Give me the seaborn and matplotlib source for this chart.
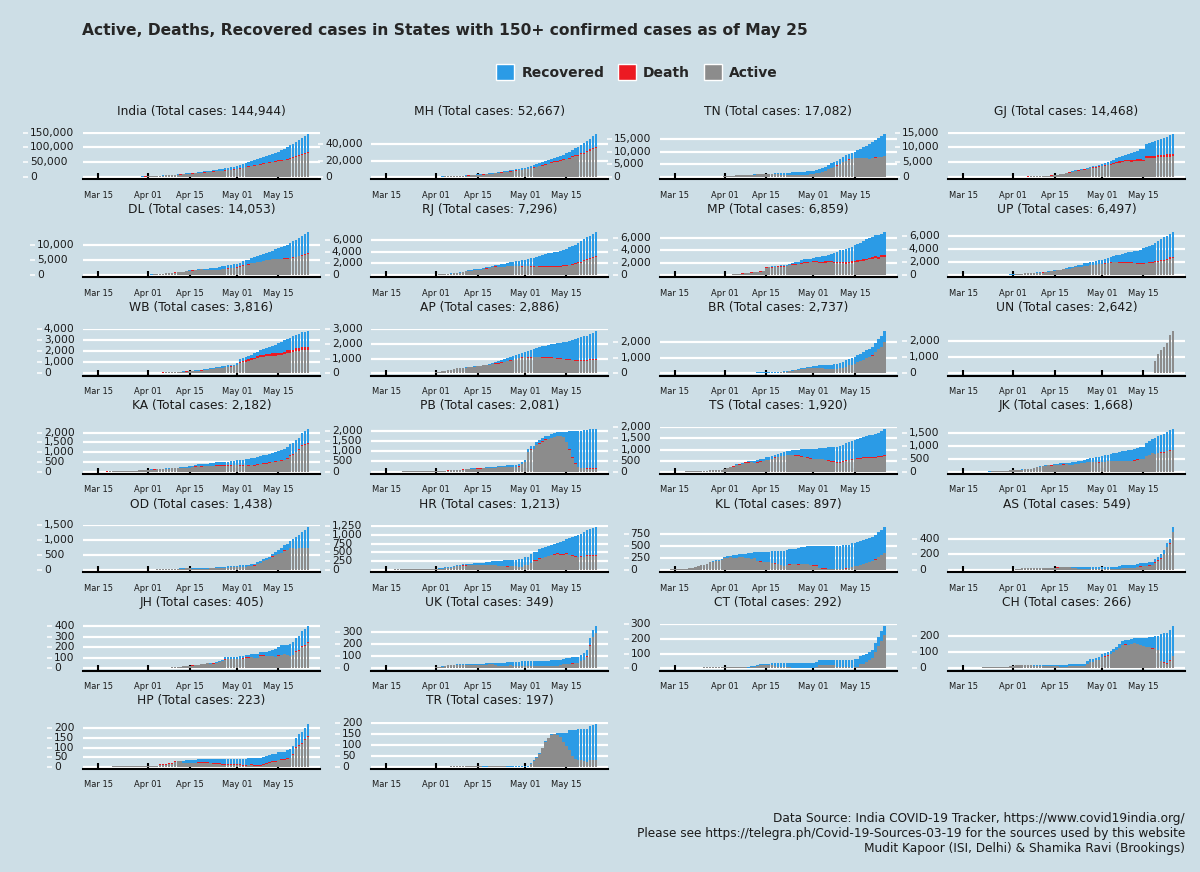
import numpy as np
import pandas as pd
import matplotlib
matplotlib.use("Agg")
import matplotlib.pyplot as plt
import seaborn as sns
from matplotlib.patches import Patch
from matplotlib.lines import Line2D
from matplotlib.textpath import TextToPath
from matplotlib.font_manager import FontProperties

# ---------------- data (cumulative counts, one value per day from each start date) ----------------
IN_start = "2020-03-14"
IN_total = [102,113,119,142,156,194,244,330,396,499,536,657,727,887,987,1024,1251,1397,
            1998,2543,2567,3082,3588,4778,5311,5916,6725,7598,8446,9205,10453,11487,12322,13430,14352,15722,17615,18539,20080,21370,23077,24530,26283,27890,29451,31324,33062,34863,
            37257,39699,42505,46437,49400,52987,56351,59695,62808,67161,70768,74292,78055,81997,85784,90648,95698,100328,106475,112028,118226,124794,131423,138536,144944]
IN_recovered = [10,13,14,14,14,20,23,23,24,34,40,43,45,75,84,95,102,124,
                169,191,213,229,275,375,422,473,565,655,762,1036,1190,1359,1489,1750,2015,2463,2854,3273,3960,4325,4814,5210,5939,6523,7137,7747,8437,9068,
                10007,10819,11775,12847,14183,15331,16776,17887,19301,20969,22549,24420,26235,27969,30258,34109,36824,39233,42309,45300,48553,51824,54385,57692,60490]
IN_deaths = [2,2,2,3,3,4,5,7,7,10,11,13,17,20,24,27,35,45,
             56,72,80,96,109,136,160,181,227,249,288,331,358,393,422,448,486,521,559,603,652,686,723,779,826,881,939,1008,1075,1152,
             1223,1323,1391,1568,1694,1783,1889,1985,2109,2212,2294,2415,2551,2649,2752,2872,3025,3156,3302,3434,3583,3720,3867,4021,4172]

MH_start = "2020-03-14"
MH_total = [14,32,38,41,45,48,52,63,74,97,107,122,130,153,186,203,220,302,
            335,423,490,635,748,868,1018,1135,1364,1574,1761,1982,2334,2687,2919,3202,3323,3651,4200,4666,5218,5652,6427,6817,7628,8068,8590,9318,9915,10498,
            11506,12296,12974,14541,15525,16758,17974,19063,20228,22171,23401,24427,25922,27524,29100,30706,33053,35058,37136,39297,41642,44582,47190,50231,52667]
MH_recovered = [0,0,0,0,0,0,0,0,0,0,1,14,14,25,25,34,35,39,
                39,42,50,50,56,56,79,117,125,188,208,217,229,259,295,300,331,365,507,572,722,789,840,957,1076,1188,1282,1388,1593,1773,
                1879,2000,2115,2465,2819,3094,3301,3470,3800,3986,4199,5125,5547,6059,6564,7088,7688,8437,9639,10318,11726,12583,13404,14600,15786]
MH_deaths = [0,0,0,1,1,1,1,2,2,3,4,4,4,6,7,8,10,13,
             16,20,26,32,45,52,64,72,97,110,127,149,160,178,187,194,201,211,223,232,251,269,283,301,323,342,369,400,432,459,
             485,521,548,583,617,651,694,731,779,832,868,921,975,1019,1068,1135,1198,1249,1325,1390,1454,1517,1577,1635,1695]

TN_start = "2020-03-14"
TN_total = [1,1,1,1,1,2,3,3,6,9,12,18,26,29,40,42,67,124,
            234,309,411,485,571,621,690,738,834,911,969,1075,1173,1204,1242,1267,1323,1372,1477,1520,1596,1629,1683,1755,1821,1885,1937,2058,2162,2323,
            2526,2757,3023,3550,4058,4829,5409,6009,6535,7204,8002,8718,9227,9674,10108,10585,11224,11760,12448,13191,13967,14753,15512,16277,17082]
TN_recovered = [1,1,1,1,1,1,1,1,1,1,1,1,1,1,1,1,1,2,
                6,6,6,6,8,8,8,19,21,27,44,50,58,81,118,180,283,365,411,635,662,752,866,960,1020,1101,1128,1210,1258,1312,
                1372,1379,1485,1516,1547,1605,1824,1959,1959,2051,2134,2176,2240,2369,2599,3002,3538,4172,4895,5882,6282,6984,7491,8324,8731]
TN_deaths = [0,0,0,0,0,0,0,0,0,0,0,1,1,1,1,1,1,1,
             1,2,3,5,5,6,7,8,8,9,10,11,11,12,15,15,15,15,15,16,17,18,18,20,22,23,24,25,27,28,
             29,30,30,31,33,35,37,40,44,47,49,53,61,64,69,71,74,78,81,84,87,94,103,111,118]

GJ_start = "2020-03-19"
GJ_total = [2,5,7,18,29,33,38,43,44,53,58,69,74,
            82,87,95,105,122,144,165,179,186,241,308,378,432,538,650,766,930,1099,1376,1604,1939,2178,2407,2624,2815,3071,3301,3548,3774,4082,
            4395,4721,5054,5428,5804,6245,6625,7013,7403,7797,8195,8541,8903,9268,9592,10989,11380,11746,12140,12539,12910,13273,13664,14063,14468]
GJ_recovered = [0,0,0,0,0,0,0,0,0,1,1,1,5,
                5,5,8,10,11,14,17,18,25,25,33,45,52,54,56,64,73,86,93,106,131,139,179,235,265,282,313,362,434,527,
                613,734,896,1042,1115,1250,1381,1500,1709,2091,2545,2780,3023,3246,3753,4035,4308,4804,5043,5219,5488,5880,6091,6412,6636]
GJ_deaths = [0,0,0,1,1,1,3,3,3,5,5,6,6,
             7,7,8,10,11,12,14,16,16,17,19,22,26,26,30,33,36,41,53,58,71,90,103,112,127,133,151,162,181,197,
             214,236,262,290,319,368,396,425,449,472,493,513,537,566,586,606,625,659,694,719,749,773,802,829,888]

DL_start = "2020-03-14"
DL_total = [7,7,7,8,10,12,17,26,29,30,31,35,36,39,40,72,87,97,
            152,219,386,445,503,523,576,669,720,903,1069,1154,1154,1510,1561,1578,1707,1893,2003,2081,2156,2248,2376,2514,2625,2918,3108,3314,3439,3515,
            3738,4122,4549,4898,5104,5532,5980,6318,6542,6923,7233,7639,7998,8470,8895,9333,9755,10054,10554,11088,11659,12319,12910,13418,14053]
DL_recovered = [2,2,2,2,2,2,5,6,6,6,6,6,6,6,6,6,6,6,
                6,6,8,8,12,16,16,18,21,25,25,27,30,30,30,30,36,47,72,290,431,611,724,808,857,877,1078,1078,1092,1094,
                1167,1256,1362,1431,1542,1621,1898,2020,2129,2187,2298,2512,2638,3046,3518,3926,4167,4485,4750,5192,5567,5898,6267,6540,6771]
DL_deaths = [0,1,1,1,1,1,1,1,1,1,1,1,1,1,2,2,2,2,
             2,2,4,6,7,7,9,9,12,14,19,24,24,28,30,32,38,42,45,47,48,48,50,53,54,54,54,54,56,59,
             61,64,64,64,64,64,66,68,73,73,73,86,106,115,123,129,148,160,168,176,194,208,231,261,276]

RJ_start = "2020-03-14"
RJ_total = [2,3,4,4,7,13,17,23,25,32,33,36,38,41,54,59,69,79,
            106,133,167,200,253,288,328,381,463,561,700,804,873,1005,1076,1131,1229,1351,1478,1576,1735,1801,1890,1964,2083,2185,2262,2364,2438,2584,
            2666,2772,2886,3009,3158,3317,3453,3579,3708,3814,3898,3988,4126,4328,4534,4727,4960,5202,5507,5845,6227,6494,6742,7028,7296]
RJ_recovered = [0,0,0,3,3,3,3,3,3,3,3,3,3,3,3,3,3,3,
                3,3,21,21,21,21,21,21,21,25,25,25,93,147,164,183,183,205,205,213,230,324,420,524,539,616,648,738,814,1059,
                1116,1200,1356,1459,1596,1771,1916,2051,2176,2264,2389,2439,2537,2666,2787,2935,3015,3146,3314,3553,3649,3708,3853,3951,4035]
RJ_deaths = [0,0,0,0,0,0,0,0,0,0,1,1,1,2,2,3,3,3,
             3,3,3,3,3,3,3,3,3,5,7,8,11,14,14,14,14,20,21,25,26,26,27,27,33,42,46,50,51,56,
             62,65,71,77,82,86,92,97,100,103,107,109,115,121,125,128,131,131,138,146,150,153,160,163,167]

MP_start = "2020-03-20"
MP_total = [4,4,6,7,7,14,15,20,30,39,47,66,
            86,99,104,154,165,256,268,320,411,435,532,564,604,730,1310,1355,1407,1485,1540,1552,1587,1695,1846,1945,2090,2165,2368,2560,2625,2660,
            2719,2846,2942,3049,3138,3252,3341,3614,3785,3986,3986,4173,4426,4595,4790,4977,5236,5465,5735,5981,6170,6371,6371,6665,6859]
MP_recovered = [0,0,0,0,0,0,0,0,0,0,0,0,
                0,0,0,0,0,0,0,0,0,0,0,0,0,0,64,64,127,131,131,148,148,148,203,210,285,302,428,482,495,503,
                524,624,798,881,941,983,1076,1451,1626,1799,1869,2088,2298,2377,2479,2583,2788,2944,3069,3173,3245,3329,3408,3475,3571]
MP_deaths = [0,0,0,0,0,1,1,1,2,2,3,3,
             5,6,6,8,9,11,14,19,26,33,36,40,43,50,53,53,57,65,72,76,76,80,80,83,99,104,110,113,119,121,
             129,146,151,165,165,176,185,215,221,225,225,232,237,239,248,252,252,258,270,272,281,290,291,300,300]

UP_start = "2020-03-14"
UP_total = [12,12,13,15,17,19,23,26,28,33,35,38,42,45,55,66,97,103,
            113,132,173,227,276,305,332,361,410,433,452,483,558,660,735,805,846,969,1084,1176,1294,1449,1512,1604,1778,1843,1986,2053,2134,2281,
            2328,2487,2645,2766,2880,2998,3073,3214,3373,3467,3573,3664,3729,3902,4058,4259,4464,4605,4926,5175,5515,5735,6017,6268,6497]
UP_recovered = [0,0,0,0,4,4,9,9,11,11,11,11,11,11,14,14,14,14,
                14,14,17,17,19,19,21,21,31,31,42,45,49,49,68,68,74,82,140,187,205,247,276,301,328,401,460,507,516,604,
                654,689,758,802,868,998,1130,1250,1387,1504,1638,1758,1887,2072,2221,2338,2441,2636,2834,3002,3204,3379,3538,3581,3699]
UP_deaths = [0,0,0,0,0,0,0,0,0,0,0,0,1,1,1,1,1,2,
             2,2,2,2,3,3,4,4,5,5,5,5,5,5,13,14,14,14,14,21,21,21,24,24,24,29,31,34,34,39,
             41,45,47,50,55,56,62,66,74,74,80,82,84,86,94,98,104,112,118,127,138,146,155,161,165]

WB_start = "2020-03-17"
WB_total = [1,1,2,2,3,4,7,7,9,10,15,17,18,22,26,
            37,53,63,69,80,91,99,116,116,134,152,152,190,213,231,255,287,310,339,392,423,456,514,571,611,649,697,725,758,795,
            922,1259,1344,1456,1548,1678,1786,1939,2063,2173,2290,2377,2461,2576,2677,2825,2961,3103,3197,3332,3459,3541,3667,3741,3816]
WB_recovered = [0,0,0,0,0,0,0,0,0,0,0,0,0,0,0,
                0,3,3,3,3,3,3,3,13,19,19,19,29,36,37,42,51,55,66,73,73,79,103,103,109,119,119,124,124,139,
                151,218,218,265,286,296,364,364,415,499,569,612,671,772,832,959,1001,1006,1136,1193,1221,1268,1306,1356,1414]
WB_deaths = [0,0,0,0,0,1,1,1,1,1,3,3,3,3,3,
             3,3,5,5,5,5,5,5,5,5,5,5,7,7,7,10,10,12,12,12,15,15,15,18,18,20,20,22,22,33,
             33,105,113,133,144,151,160,171,185,190,198,207,215,225,232,238,244,250,253,259,262,265,269,272,278]

AP_start = "2020-03-14"
AP_total = [1,1,1,1,2,2,3,3,6,8,9,10,12,14,19,21,23,40,
            87,132,161,190,226,266,314,348,363,381,405,420,432,473,525,534,572,603,647,722,757,813,895,955,1016,1097,1177,1259,1332,1403,
            1463,1525,1583,1650,1717,1777,1833,1887,1930,1980,2018,2051,2090,2137,2157,2205,2282,2355,2407,2452,2514,2561,2647,2709,2886]
AP_recovered = [0,0,0,0,0,0,0,0,0,0,0,0,0,0,1,1,1,1,
                1,1,1,1,1,1,2,2,6,6,10,10,11,14,16,17,20,29,42,52,75,118,141,150,179,193,235,258,286,321,
                341,441,488,524,589,651,729,788,842,888,960,1010,1056,1142,1192,1252,1353,1466,1511,1560,1593,1636,1672,1735,1913]
AP_deaths = [0,0,0,0,0,0,0,0,0,0,0,0,0,0,0,0,0,0,
             1,1,1,3,3,3,3,4,4,6,6,6,7,9,14,14,14,15,17,20,22,24,24,24,24,31,31,31,31,33,
             33,33,36,36,36,36,38,41,44,45,46,46,47,48,48,49,49,50,50,52,53,53,53,55,56]

BR_start = "2020-03-22"
BR_total = [2,2,3,4,6,9,9,11,15,15,
            23,24,29,30,32,32,32,38,39,60,60,64,65,66,70,80,83,86,96,113,126,143,176,223,251,274,346,366,403,426,
            466,481,517,529,542,550,572,579,611,696,747,831,938,994,1033,1179,1262,1391,1519,1573,1720,1982,2177,2392,2737]
BR_recovered = [0,0,0,0,0,0,0,0,0,0,
                0,0,0,0,0,0,0,0,0,0,15,15,29,29,29,29,29,29,37,42,42,42,46,46,46,47,56,60,60,64,
                84,110,135,197,256,279,299,315,336,365,384,388,400,420,438,453,483,510,538,541,560,605,629,671,720]
BR_deaths = [0,0,1,1,1,1,1,1,1,1,
             1,1,1,1,1,1,1,1,1,1,1,1,1,1,1,1,1,2,2,2,2,2,2,2,2,2,2,2,2,2,
             2,2,4,4,4,4,5,5,6,6,6,6,6,6,7,7,7,7,9,9,10,11,11,11,13]

UN_start = "2020-05-19"
UN_total = [780,1200,1420,1640,1900,2350,2642]
UN_recovered = [0,0,0,0,0,0,0]
UN_deaths = [0,0,0,0,0,0,0]

KA_start = "2020-03-14"
KA_total = [6,7,8,11,14,15,15,20,26,33,37,41,55,55,64,76,83,101,
            110,124,128,144,151,163,175,181,197,207,215,232,247,260,279,315,359,384,390,408,418,427,445,474,489,503,512,523,535,565,
            589,601,614,651,673,693,705,753,794,848,862,925,959,987,1056,1092,1147,1246,1397,1462,1605,1743,1959,2089,2182]
KA_recovered = [0,0,0,0,0,0,0,0,2,2,3,3,3,5,5,5,5,8,
                9,11,11,12,12,12,20,25,25,34,39,54,59,71,75,80,82,92,111,112,114,129,144,152,152,177,188,198,206,216,
                229,271,293,305,332,340,366,376,386,422,431,433,451,460,496,509,530,539,543,557,580,597,608,654,705]
KA_deaths = [0,0,0,1,1,1,1,1,1,1,1,2,2,3,3,3,3,3,
             3,3,4,4,4,4,4,5,5,6,6,6,7,10,12,13,13,14,14,16,17,17,17,18,19,19,19,20,21,21,
             22,22,25,25,25,28,30,30,30,30,31,31,31,33,35,36,37,37,40,40,41,41,42,44,44]

PB_start = "2020-03-14"
PB_total = [1,1,1,2,2,2,2,14,21,21,29,33,33,38,38,38,41,41,
            46,48,53,57,68,76,79,91,101,132,151,158,170,176,186,197,202,211,219,244,251,277,298,298,313,322,330,342,375,480,
            585,1102,1232,1261,1451,1526,1644,1731,1762,1823,1877,1914,1924,1932,1946,1964,1980,1981,2002,2005,2028,2045,2060,2061,2081]
PB_recovered = [0,0,0,0,0,0,0,0,0,0,0,0,0,0,0,0,0,1,
                1,1,4,4,5,5,5,5,5,14,14,22,25,25,27,27,29,30,31,38,45,49,57,71,72,85,90,98,104,104,
                112,117,126,135,135,149,149,156,159,159,160,160,171,230,480,860,1280,1550,1750,1800,1830,1860,1880,1890,1898]
PB_deaths = [0,0,0,0,0,0,1,1,1,1,1,1,1,1,1,1,3,3,
             4,4,4,5,5,6,7,8,8,9,11,11,12,13,13,13,13,13,14,16,16,17,17,17,17,18,19,19,20,21,
             21,21,23,23,27,28,28,29,31,31,32,32,32,32,32,32,35,37,37,38,39,39,39,40,40]

TS_start = "2020-03-14"
TS_total = [3,3,4,5,8,13,17,21,22,33,35,41,44,59,67,70,77,97,
            127,154,229,269,334,364,404,453,471,487,503,531,562,593,644,650,700,766,809,858,872,928,945,970,984,991,1001,1004,1009,1016,
            1038,1044,1063,1082,1085,1096,1107,1122,1132,1163,1196,1275,1326,1367,1414,1454,1509,1551,1592,1634,1661,1699,1761,1813,1920]
TS_recovered = [1,1,1,1,1,1,1,1,1,1,1,1,1,1,1,1,1,1,
                1,1,15,32,32,32,35,35,45,45,100,100,100,100,110,118,120,125,130,140,150,160,190,210,230,260,290,321,367,409,
                444,464,480,500,540,585,620,650,690,725,725,750,775,800,825,850,880,900,930,965,1000,1030,1060,1100,1164]
TS_deaths = [0,0,0,0,0,0,0,0,0,0,0,0,0,1,1,1,1,1,
             3,3,7,7,11,11,11,11,12,12,12,16,17,17,18,18,18,18,18,21,23,23,24,25,26,26,26,26,26,26,
             28,28,29,29,29,29,29,29,30,30,30,30,31,32,34,34,34,35,38,40,40,45,49,53,56]

JK_start = "2020-03-14"
JK_total = [2,3,3,3,4,4,4,4,4,7,11,13,18,20,33,38,48,55,
            62,70,75,92,106,109,125,158,184,207,224,245,270,278,300,314,328,341,350,354,368,380,407,434,454,494,523,546,565,581,
            614,639,666,701,726,741,775,793,823,836,861,879,934,971,983,1121,1183,1289,1317,1390,1449,1489,1569,1621,1668]
JK_recovered = [0,0,0,0,0,0,1,1,1,1,1,1,1,1,1,2,2,2,
                2,3,3,4,4,4,4,6,6,6,6,11,11,30,36,41,52,56,56,71,86,89,92,99,108,118,136,176,188,216,
                240,247,254,286,305,323,346,371,394,413,423,437,446,466,472,494,528,560,620,650,684,729,755,780,809]
JK_deaths = [0,0,0,0,0,0,0,0,0,0,0,0,1,1,1,1,2,2,
             2,2,2,2,2,2,2,3,4,4,4,4,4,4,4,4,4,4,5,5,5,5,5,5,5,6,6,7,7,8,
             8,8,8,8,8,8,8,9,9,9,10,10,10,10,11,13,14,15,16,18,19,21,21,21,23]

OD_start = "2020-03-16"
OD_total = [1,1,1,2,2,2,2,2,2,3,3,3,3,3,3,4,
            4,5,5,20,21,21,42,42,44,48,50,54,54,60,60,60,60,61,61,68,74,79,83,89,94,103,118,125,142,143,
            149,157,162,169,185,205,219,271,294,377,414,437,538,611,672,737,828,876,978,1052,1103,1189,1269,1336,1438]
OD_recovered = [0,0,0,0,0,0,0,0,0,0,0,0,0,0,0,0,
                0,0,0,0,0,0,0,0,0,0,2,2,2,2,2,18,18,18,19,24,24,24,24,33,33,34,37,39,40,40,
                41,49,55,61,62,63,64,68,68,69,70,75,80,99,115,160,169,208,246,308,383,440,521,596,689]
OD_deaths = [0,0,0,0,0,0,0,0,0,0,0,0,0,0,0,0,
             0,0,0,0,0,1,1,1,1,1,1,1,1,1,1,1,1,1,1,1,1,1,1,1,1,1,1,1,1,1,
             1,1,1,1,1,2,2,2,2,3,3,3,3,3,3,3,3,3,3,5,5,6,6,7,7]

HR_start = "2020-03-14"
HR_total = [14,14,15,16,17,17,19,21,21,26,28,30,33,33,33,35,36,40,
            43,49,58,84,88,93,129,143,147,169,175,179,183,198,204,206,207,225,233,254,262,264,270,272,275,283,293,298,310,313,
            360,376,442,517,527,596,625,647,675,703,730,780,793,818,887,910,928,964,993,1031,1067,1131,1157,1184,1213]
HR_recovered = [0,0,0,0,0,0,0,0,0,0,0,0,11,11,11,14,18,21,
                24,24,29,29,31,31,34,34,34,39,43,46,49,54,57,60,71,87,95,108,117,141,160,166,171,178,182,191,212,217,
                225,234,243,245,254,262,269,271,271,272,280,301,347,366,412,483,512,567,610,643,693,706,739,760,790]
HR_deaths = [0,0,0,0,0,0,0,0,0,0,0,0,0,0,0,0,0,0,
             0,0,0,0,1,1,2,2,3,3,3,3,3,3,3,3,3,3,3,3,3,3,3,3,3,3,3,3,3,3,
             4,4,5,5,6,6,6,6,8,9,10,11,11,11,13,13,13,14,14,15,15,16,16,16,16]

KL_start = "2020-03-14"
KL_total = [19,22,24,27,27,28,40,52,67,95,105,109,137,176,182,202,215,241,
            265,286,295,306,314,327,336,345,357,364,373,375,378,379,386,387,395,396,399,402,408,426,437,448,450,457,481,485,495,497,
            499,499,499,500,502,503,503,503,505,512,519,524,534,560,576,587,601,630,642,666,690,732,795,847,897]
KL_recovered = [3,3,3,3,3,3,3,4,4,4,4,5,11,11,14,16,18,20,
                20,26,28,49,56,59,69,84,97,123,126,179,198,207,211,218,245,257,270,291,316,319,320,321,329,338,355,364,369,392,
                401,401,462,465,468,474,482,484,485,487,490,491,491,493,494,495,496,497,497,497,497,510,518,532,542]
KL_deaths = [0,0,0,0,0,0,0,0,0,0,0,0,0,0,1,1,1,1,
             2,2,2,2,2,2,2,3,3,3,3,3,3,3,3,3,3,3,3,3,3,3,3,3,3,4,4,4,4,4,
             4,4,4,4,4,4,4,4,4,4,4,4,4,4,4,4,4,4,4,4,4,4,4,5,5]

AS_start = "2020-03-31"
AS_total = [1,
            5,16,20,24,26,26,27,28,29,29,29,29,30,31,32,33,34,35,35,35,35,36,36,36,36,36,36,38,38,42,
            43,43,43,43,43,45,52,59,63,65,65,65,80,86,90,92,101,107,142,174,203,259,350,400,549]
AS_recovered = [0,
                0,0,0,0,0,0,0,0,0,0,0,0,0,0,0,0,0,0,0,0,5,12,17,19,19,19,19,27,27,29,
                32,32,32,34,34,34,34,34,34,34,35,35,39,39,41,41,41,42,43,51,54,54,56,58,61]
AS_deaths = [0,
             0,0,0,0,0,0,0,0,0,1,1,1,1,1,1,1,1,1,1,1,1,1,1,1,1,1,1,1,1,1,
             1,1,1,1,1,1,1,1,1,2,2,2,2,2,2,2,2,2,4,4,4,4,4,4,4]

JH_start = "2020-03-31"
JH_total = [1,
            1,1,2,3,3,3,3,4,13,13,17,17,19,24,27,29,33,34,41,45,49,53,55,59,67,82,103,105,107,109,
            111,113,115,125,127,132,132,132,156,157,159,160,173,187,203,217,223,223,231,249,290,308,350,370,405]
JH_recovered = [0,
                0,0,0,0,0,0,0,0,0,0,0,0,0,0,0,0,0,0,0,0,0,8,8,8,8,13,16,17,19,19,
                20,21,21,22,22,23,30,32,32,35,39,41,53,76,79,87,87,98,112,124,130,136,140,150,159]
JH_deaths = [0,
             0,0,0,0,0,0,1,1,1,1,1,1,1,1,2,2,2,2,2,2,2,3,3,3,3,3,3,3,3,3,
             3,3,3,3,3,3,3,3,3,3,3,3,3,3,3,3,3,3,3,3,3,3,3,4,4]

UK_start = "2020-03-15"
UK_total = [1,1,1,1,3,3,3,3,4,5,5,6,7,7,7,7,7,
            10,10,16,22,26,31,31,33,35,35,35,35,35,37,37,37,37,40,42,44,46,46,47,47,48,50,51,54,55,57,
            57,59,60,60,60,61,61,63,64,67,68,69,72,78,82,87,91,92,93,111,122,153,244,317,349]
UK_recovered = [0,0,0,0,0,0,0,0,0,0,0,0,0,0,0,0,0,
                2,2,2,2,2,2,2,2,5,5,5,5,7,9,9,9,9,9,9,11,18,23,24,24,25,26,28,33,36,36,
                36,39,39,40,40,40,43,43,46,46,46,46,46,46,46,50,51,51,52,53,53,56,56,58,58]
UK_deaths = [0,0,0,0,0,0,0,0,0,0,0,0,0,0,0,0,0,
             0,0,0,0,0,0,0,0,0,0,0,0,0,0,0,0,0,0,0,0,0,0,0,0,0,0,0,0,0,0,
             0,0,0,0,0,0,0,0,0,0,0,0,0,0,0,0,1,1,1,1,1,1,2,3,3]

CT_start = "2020-03-19"
CT_total = [1,1,1,1,1,1,6,6,6,7,7,8,9,
            9,9,9,10,10,10,10,10,10,18,18,25,31,31,33,33,36,36,36,36,36,36,36,36,37,37,37,38,38,38,
            40,43,57,57,57,59,59,59,59,59,59,59,60,60,66,66,86,92,101,115,128,172,214,252,292]
CT_recovered = [0,0,0,0,0,0,0,0,0,0,1,1,1,
                2,2,2,2,3,3,3,4,9,9,10,10,10,10,10,12,13,19,24,24,25,28,28,31,32,33,35,36,36,36,
                36,36,36,36,36,36,38,38,49,49,53,53,53,55,55,59,59,59,59,59,59,59,59,62,64]
CT_deaths = [0,0,0,0,0,0,0,0,0,0,0,0,0,
             0,0,0,0,0,0,0,0,0,0,0,0,0,0,0,0,0,0,0,0,0,0,0,0,0,0,0,0,0,0,
             0,0,0,0,0,0,0,0,0,0,0,0,0,0,0,0,0,0,0,0,0,0,0,0,0]

CH_start = "2020-03-19"
CH_total = [1,1,5,6,6,7,7,7,8,8,8,8,13,
            15,18,18,18,18,18,18,19,19,19,21,21,21,21,21,21,21,21,23,26,27,27,27,28,30,45,56,56,67,73,
            88,94,102,111,122,135,150,169,174,174,182,187,187,191,191,191,196,196,200,202,217,218,218,238,266]
CH_recovered = [0,0,0,0,0,0,0,0,0,0,0,0,0,
                0,0,0,0,0,0,0,6,7,7,7,7,7,7,9,9,13,13,13,14,14,14,15,16,17,17,17,17,17,18,
                18,20,21,21,21,21,21,24,24,28,28,30,33,43,51,55,60,71,73,86,170,181,187,187,187]
CH_deaths = [0,0,0,0,0,0,0,0,0,0,0,0,0,
             0,0,0,0,0,0,0,0,0,0,0,0,0,0,0,0,0,0,0,0,0,0,0,0,0,0,0,1,1,1,
             1,1,1,1,1,1,1,1,2,2,2,2,3,3,3,3,3,3,3,3,3,3,3,4,4]

HP_start = "2020-03-20"
HP_total = [2,2,2,2,3,3,3,3,3,3,3,3,
            3,3,6,6,13,13,13,18,18,28,32,32,32,33,33,35,37,38,39,39,39,39,39,40,40,40,40,40,40,40,
            40,40,41,42,45,46,46,46,46,50,55,59,65,66,74,76,78,86,90,110,152,168,179,203,223]
HP_recovered = [0,0,0,0,0,0,0,0,0,0,0,0,
                1,1,1,1,1,1,1,1,1,1,1,1,11,13,13,16,16,16,16,16,16,18,22,22,22,28,28,28,28,28,
                28,28,34,34,34,34,37,37,37,37,37,37,37,37,38,38,40,41,44,45,49,54,57,60,63]
HP_deaths = [0,0,0,0,1,1,1,1,1,1,1,1,
             1,1,2,2,2,2,2,2,2,2,2,2,2,2,2,2,2,2,2,2,2,2,2,2,2,2,2,2,2,2,
             2,2,2,2,3,3,3,3,3,3,3,3,3,3,3,3,3,3,3,3,4,4,4,4,4]

TR_start = "2020-04-06"
TR_total = [1,1,1,1,1,1,1,1,1,1,1,1,1,2,2,2,2,2,2,2,2,2,2,2,2,
            2,2,16,29,43,62,88,118,134,150,152,154,155,155,156,167,167,167,173,175,175,175,189,191,197]
TR_recovered = [0,0,0,0,0,0,0,0,0,0,0,1,1,1,1,1,1,1,1,2,2,2,2,2,2,
                2,2,2,2,2,2,2,2,2,2,2,10,20,40,60,90,116,130,141,145,150,155,160,162,165]
TR_deaths = [0,0,0,0,0,0,0,0,0,0,0,0,0,0,0,0,0,0,0,0,0,0,0,0,0,
             0,0,0,0,0,0,0,0,0,0,0,0,0,0,0,0,0,0,0,0,0,0,0,0,0]

# panel name, start, series, y-break step
STATES = [
    ("India", IN_start, IN_total, IN_recovered, IN_deaths, 50000),
    ("MH", MH_start, MH_total, MH_recovered, MH_deaths, 20000),
    ("TN", TN_start, TN_total, TN_recovered, TN_deaths, 5000),
    ("GJ", GJ_start, GJ_total, GJ_recovered, GJ_deaths, 5000),
    ("DL", DL_start, DL_total, DL_recovered, DL_deaths, 5000),
    ("RJ", RJ_start, RJ_total, RJ_recovered, RJ_deaths, 2000),
    ("MP", MP_start, MP_total, MP_recovered, MP_deaths, 2000),
    ("UP", UP_start, UP_total, UP_recovered, UP_deaths, 2000),
    ("WB", WB_start, WB_total, WB_recovered, WB_deaths, 1000),
    ("AP", AP_start, AP_total, AP_recovered, AP_deaths, 1000),
    ("BR", BR_start, BR_total, BR_recovered, BR_deaths, 1000),
    ("UN", UN_start, UN_total, UN_recovered, UN_deaths, 1000),
    ("KA", KA_start, KA_total, KA_recovered, KA_deaths, 500),
    ("PB", PB_start, PB_total, PB_recovered, PB_deaths, 500),
    ("TS", TS_start, TS_total, TS_recovered, TS_deaths, 500),
    ("JK", JK_start, JK_total, JK_recovered, JK_deaths, 500),
    ("OD", OD_start, OD_total, OD_recovered, OD_deaths, 500),
    ("HR", HR_start, HR_total, HR_recovered, HR_deaths, 250),
    ("KL", KL_start, KL_total, KL_recovered, KL_deaths, 250),
    ("AS", AS_start, AS_total, AS_recovered, AS_deaths, 200),
    ("JH", JH_start, JH_total, JH_recovered, JH_deaths, 100),
    ("UK", UK_start, UK_total, UK_recovered, UK_deaths, 100),
    ("CT", CT_start, CT_total, CT_recovered, CT_deaths, 100),
    ("CH", CH_start, CH_total, CH_recovered, CH_deaths, 100),
    ("HP", HP_start, HP_total, HP_recovered, HP_deaths, 50),
    ("TR", TR_start, TR_total, TR_recovered, TR_deaths, 50),
]

X_TICKS = ["2020-03-15", "2020-04-01", "2020-04-15", "2020-05-01", "2020-05-15"]
FIRST_DAY, LAST_DAY = "2020-03-14", "2020-05-25"

TITLE = "Active, Deaths, Recovered cases in States with 150+ confirmed cases as of May 25"
FOOTER = ["Data Source: India COVID-19 Tracker, https://www.covid19india.org/",
          "Please see https://telegra.ph/Covid-19-Sources-03-19 for the sources used by this website",
          "Mudit Kapoor (ISI, Delhi) & Shamika Ravi (Brookings)"]

# ---------------- style ----------------
BG = "#cddee6"
C_REC, C_DEATH, C_ACT = "#2b9be6", "#ec1a22", "#8c8c8c"
TXT = "#1a1a1a"
YLAB_SIZE = 7.7

sns.set_theme(style="white", rc={"axes.facecolor": BG, "figure.facecolor": BG,
                                 "savefig.facecolor": BG})
plt.rcParams["font.family"] = ["DejaVu Sans"]

W, H = 1200, 872
fig = plt.figure(figsize=(W / 100, H / 100), dpi=100)
COL_LEFT = [83, 371, 659.5, 948]
PW, PH = 237, 47
ROW_BOTTOM = [179 + 98.3 * r for r in range(7)]

origin = pd.Timestamp("2020-03-15")
day0 = (pd.Timestamp(FIRST_DAY) - origin).days
day1 = (pd.Timestamp(LAST_DAY) - origin).days
span = (day1 + 0.45) - (day0 - 0.45)
XLIM = (day0 - 0.45 - 0.05 * span, day1 + 0.45 + 0.05 * span)
xt_pos = [(pd.Timestamp(d) - origin).days for d in X_TICKS]
xt_lab = [pd.Timestamp(d).strftime("%b %d") for d in X_TICKS]

t2p = TextToPath()
fp = FontProperties(family="DejaVu Sans", size=YLAB_SIZE)


def text_width_px(s):
    w, _, _ = t2p.get_text_width_height_descent(s, fp, ismath=False)
    return w * 100 / 72


for i, (name, start, total, rec, death, step) in enumerate(STATES):
    total = np.asarray(total, float)
    rec = np.asarray(rec, float)
    death = np.asarray(death, float)
    if not (len(total) == len(rec) == len(death)):
        raise ValueError(f"{name}: lengths {len(total)} {len(rec)} {len(death)}")
    active = total - rec - death
    x = (pd.Timestamp(start) - origin).days + np.arange(len(total))
    if x[-1] != day1:
        raise ValueError(f"{name}: ends at day {x[-1]} not {day1}")

    r, c = divmod(i, 4)
    left, bottom = COL_LEFT[c], ROW_BOTTOM[r]
    ax = fig.add_axes([left / W, 1 - bottom / H, PW / W, PH / H])
    ymax = total.max()
    ylo, yhi = -0.05 * ymax, 1.05 * ymax
    yt = np.arange(0, yhi, step)
    for t in yt:
        ax.axhline(t, color="white", lw=1.6, zorder=0.3)

    # stacked bars: Active (bottom), Death, Recovered (top)
    kw = dict(native_scale=True, width=0.9, saturation=1, errorbar=None,
              linewidth=0, edgecolor="none", ax=ax)
    sns.barplot(x=x, y=active, color=C_ACT, **kw)
    sns.barplot(x=x, y=death, bottom=active, color=C_DEATH, **kw)
    sns.barplot(x=x, y=rec, bottom=active + death, color=C_REC, **kw)

    ax.set_xlim(*XLIM)
    ax.set_ylim(ylo, yhi)
    ax.set_xlabel("")
    ax.set_ylabel("")
    for s in ("left", "right", "top"):
        ax.spines[s].set_visible(False)
    ax.spines["bottom"].set_color("black")
    ax.spines["bottom"].set_linewidth(1.5)
    ax.spines["bottom"].set_zorder(5)

    ax.set_xticks(xt_pos)
    ax.set_xticklabels(xt_lab, fontsize=6.0, color=TXT)
    ax.tick_params(axis="x", direction="in", length=4.6, width=1.5, color="black",
                   pad=8.3, bottom=True)
    ax.set_yticks([])

    # y labels: left-aligned column to the left of the panel, in figure pixels
    labels = [f"{int(t):,}" for t in yt]
    maxw = max(text_width_px(s) for s in labels)
    lab_x = left - 8.5 - maxw
    for t, s in zip(yt, labels):
        ypix = bottom - (t - ylo) / (yhi - ylo) * PH
        yf = 1 - ypix / H
        fig.text(lab_x / W, yf, s, ha="left", va="center", fontsize=YLAB_SIZE, color=TXT)
        fig.add_artist(Line2D([(lab_x - 7) / W, (lab_x - 2) / W], [yf, yf],
                              transform=fig.transFigure, color="white", lw=1.1,
                              solid_capstyle="butt"))

    ax.text(0.5, 1 + 21 / PH, f"{name} (Total cases: {int(total[-1]):,})",
            transform=ax.transAxes, ha="center", va="center", fontsize=8.8, color=TXT)

fig.text(82 / W, 1 - 30 / H, TITLE, fontsize=11.2, fontweight="bold", ha="left", va="center")

handles = [Patch(facecolor=C_REC, label="Recovered"),
           Patch(facecolor=C_DEATH, label="Death"),
           Patch(facecolor=C_ACT, label="Active")]
fig.legend(handles=handles, loc="center", bbox_to_anchor=(637 / W, 1 - 72 / H), ncol=3,
           frameon=False, prop={"weight": "bold", "size": 10}, handlelength=1.3,
           handleheight=1.3, handletextpad=0.5, columnspacing=1.0)

for k, line in enumerate(FOOTER):
    fig.text(1185 / W, 1 - (818 + 15 * k) / H, line, fontsize=8.7, ha="right", va="center",
             color=TXT)

fig.savefig("out.png", dpi=100)
